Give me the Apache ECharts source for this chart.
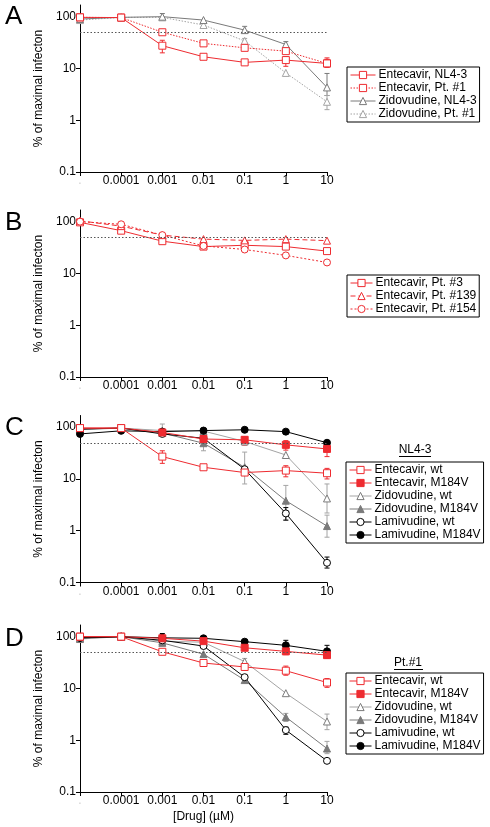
<!DOCTYPE html>
<html><head><meta charset="utf-8">
<script src="https://cdn.jsdelivr.net/npm/echarts@6/dist/echarts.min.js"></script>
<style>html,body{margin:0;padding:0;background:#fff}#c{width:490px;height:827px}</style>
</head><body><div id="c"></div>
<script>
const categories = ['.', '0.0001', '0.001', '0.01', '0.1', '1', '10'];
const yTicks = [0.1, 1, 10, 100];
const yMin = 0.1, yMax = 168;

// Panel A
const aEntNL43 = [97, 96, 27.5, 16.8, 13.1, 14.5, 12.5];
const aEntPt1 = [97, 96, 50, 30.5, 25, 21.6, 12.5];
const aZidNL43 = [90, 97, 100, 86, 55, 29, 4.3];
const aZidPt1 = [86, 97, 97, 69, 34, 8.2, 2.27];
const aEntNL43Err = [null, null, [20, 35], null, null, [11, 17], [10.5, 15]];
const aEntPt1Err = [null, null, null, null, null, null, [11, 16]];
const aZidNL43Err = [null, null, [85, 115], null, [48, 65], [24, 33], [3, 8]];
const aZidPt1Err = [null, null, null, null, [27, 38], null, [1.6, 3]];

// Panel B
const bPt3 = [97, 67, 42, 33, 35, 33, 27];
const bPt139 = [104, 82, 55, 46, 43.5, 46, 43];
const bPt154 = [100, 89, 55, 34, 29, 22.3, 16.3];

// Panel C (NL4-3)
const cEntWt = [96, 96, 27, 16.8, 13.3, 14.5, 12.9];
const cEntM = [96, 96, 79, 59, 57, 45.5, 38];
const cZidWt = [93, 96, 86, 84, 53, 29, 4.2];
const cZidM = [90, 96, 77, 49, 16.8, 3.8, 1.23];
const cLamWt = [92, 96, 74, 61, 15.4, 2.16, 0.24];
const cLamM = [74, 85, 82, 86, 89, 82, 50];
const cEntWtErr = [null, null, [20, 35], null, null, [11, 18], [10, 16]];
const cEntMErr = [null, null, null, null, [45, 65], [36, 55], [27, 50]];
const cZidWtErr = [null, null, [70, 115], null, null, null, [2.2, 8]];
const cZidMErr = [null, null, null, [35, 65], [8, 33], [1.6, 7.5], [0.75, 2]];
const cLamWtErr = [null, null, null, null, null, [1.6, 2.8], [0.19, 0.31]];

// Panel D (Pt.#1)
const dEntWt = [100, 100, 51, 31, 26, 22, 13];
const dEntM = [100, 100, 93, 82, 61, 52, 44];
const dZidWt = [90, 100, 82, 78, 33, 8.1, 2.3];
const dZidM = [93, 100, 76, 46, 14.5, 2.8, 0.69];
const dLamWt = [95, 100, 85, 66, 16.5, 1.57, 0.40];
const dLamM = [95, 100, 95, 93, 80, 68, 52];
const dEntWtErr = [null, null, null, null, null, [18, 27], [10.5, 15.5]];
const dEntMErr = [null, null, null, null, null, [45, 58], [38, 50]];
const dZidWtErr = [null, null, null, null, [28, 38], null, [1.6, 3.2]];
const dZidMErr = [null, null, null, null, [13, 16], [2.3, 3.3], [0.55, 0.95]];
const dLamWtErr = [null, null, null, null, null, [1.3, 1.8], null];
const dLamMErr = [null, null, [85, 115], null, null, [55, 85], [40, 68]];

const FONT = 'Liberation Sans, Arial, sans-serif';
const RED = '#ee2b30', GRAY = '#7a7a7a', LGRAY = '#a4a4a4', BLACK = '#000';

const grids = [
  {left: 80, top: 5, width: 247, height: 167},
  {left: 80, top: 210, width: 247, height: 167},
  {left: 80, top: 415.5, width: 247, height: 167},
  {left: 80, top: 625, width: 247, height: 167}
];

const xAxes = grids.map((g, i) => ({
  type: 'category', gridIndex: i, data: categories, boundaryGap: false,
  axisLine: {lineStyle: {color: '#000', width: 1}},
  axisTick: {length: 4, lineStyle: {color: '#000'}, alignWithLabel: true},
  axisLabel: {interval: 0, fontSize: 12, fontFamily: FONT, margin: 3,
    color: (v, idx) => idx === 0 ? '#d0d0d0' : '#000'},
  name: i === 3 ? '[Drug] (\u00b5M)' : '', nameLocation: 'middle', nameGap: 19,
  nameTextStyle: {fontSize: 12, fontFamily: FONT, color: '#000'}
}));

const yAxes = grids.map((g, i) => ({
  type: 'log', logBase: 10, gridIndex: i, min: yMin, max: yMax,
  axisLine: {show: true, lineStyle: {color: '#000', width: 1}},
  axisTick: {show: true, length: 4, lineStyle: {color: '#000'}, customValues: yTicks},
  axisLabel: {fontSize: 12, fontFamily: FONT, color: '#000', margin: 4, customValues: yTicks,
    formatter: v => String(v)},
  splitLine: {show: false},
  name: '% of maximal infecton', nameLocation: 'middle', nameGap: 31,
  nameTextStyle: {fontSize: 12, fontFamily: FONT, color: '#000'}
}));

function lineS(name, gi, data, o) {
  const s = {
    type: 'line', name, xAxisIndex: gi, yAxisIndex: gi, data,
    symbol: o.symbol, symbolSize: o.size || 7,
    lineStyle: {color: o.line, width: 1, type: o.dash || 'solid'},
    itemStyle: {color: o.fill, borderColor: o.stroke, borderWidth: 1},
    z: o.z || 3, animation: false, silent: true
  };
  if (o.ref) {
    s.markLine = {silent: true, symbol: 'none', label: {show: false},
      lineStyle: {color: '#555', type: [1.5, 2], width: 1},
      data: [{yAxis: 50}], animation: false};
  }
  return s;
}

function errS(gi, errs, color) {
  const data = [];
  errs.forEach((e, i) => { if (e) data.push([i, e[0], e[1]]); });
  return {
    type: 'custom', name: 'err', xAxisIndex: gi, yAxisIndex: gi, data, z: 2, silent: true, animation: false,
    encode: {x: 0, y: [1, 2]},
    renderItem(params, api) {
      const x = api.value(0);
      const lo = api.coord([x, api.value(1)]);
      const hi = api.coord([x, api.value(2)]);
      const w = 2.5, st = {stroke: color, lineWidth: 1};
      return {type: 'group', children: [
        {type: 'line', shape: {x1: lo[0], y1: lo[1], x2: hi[0], y2: hi[1]}, style: st},
        {type: 'line', shape: {x1: lo[0] - w, y1: lo[1], x2: lo[0] + w, y2: lo[1]}, style: st},
        {type: 'line', shape: {x1: hi[0] - w, y1: hi[1], x2: hi[0] + w, y2: hi[1]}, style: st}
      ]};
    }
  };
}

const WHITE = '#fff';
const series = [
  // A
  errS(0, aEntNL43Err, RED), errS(0, aEntPt1Err, RED), errS(0, aZidNL43Err, GRAY), errS(0, aZidPt1Err, LGRAY),
  lineS('Zidovudine, Pt. #1', 0, aZidPt1, {symbol: 'triangle', line: LGRAY, fill: WHITE, stroke: LGRAY, dash: [1.5, 1.5], ref: true}),
  lineS('Zidovudine, NL4-3', 0, aZidNL43, {symbol: 'triangle', line: GRAY, fill: WHITE, stroke: GRAY}),
  lineS('Entecavir, Pt. #1', 0, aEntPt1, {symbol: 'rect', line: RED, fill: WHITE, stroke: RED, dash: [1.5, 1.5]}),
  lineS('Entecavir, NL4-3', 0, aEntNL43, {symbol: 'rect', line: RED, fill: WHITE, stroke: RED}),
  // B
  lineS('Entecavir, Pt. #3', 1, bPt3, {symbol: 'rect', line: RED, fill: WHITE, stroke: RED, ref: true}),
  lineS('Entecavir, Pt. #139', 1, bPt139, {symbol: 'triangle', line: RED, fill: WHITE, stroke: RED, dash: [5, 3]}),
  lineS('Entecavir, Pt. #154', 1, bPt154, {symbol: 'circle', line: RED, fill: WHITE, stroke: RED, dash: [2, 2]}),
  // C
  errS(2, cEntWtErr, RED), errS(2, cEntMErr, RED), errS(2, cZidWtErr, LGRAY), errS(2, cZidMErr, LGRAY), errS(2, cLamWtErr, BLACK),
  lineS('Zidovudine, wt', 2, cZidWt, {symbol: 'triangle', line: LGRAY, fill: WHITE, stroke: GRAY, ref: true}),
  lineS('Zidovudine, M184V', 2, cZidM, {symbol: 'triangle', line: GRAY, fill: GRAY, stroke: GRAY}),
  lineS('Lamivudine, wt', 2, cLamWt, {symbol: 'circle', line: BLACK, fill: WHITE, stroke: BLACK}),
  lineS('Lamivudine, M184V', 2, cLamM, {symbol: 'circle', line: BLACK, fill: BLACK, stroke: BLACK}),
  lineS('Entecavir, M184V', 2, cEntM, {symbol: 'rect', line: RED, fill: RED, stroke: RED}),
  lineS('Entecavir, wt', 2, cEntWt, {symbol: 'rect', line: RED, fill: WHITE, stroke: RED}),
  // D
  errS(3, dEntWtErr, RED), errS(3, dEntMErr, RED), errS(3, dZidWtErr, LGRAY), errS(3, dZidMErr, LGRAY), errS(3, dLamWtErr, BLACK), errS(3, dLamMErr, BLACK),
  lineS('Zidovudine, wt', 3, dZidWt, {symbol: 'triangle', line: LGRAY, fill: WHITE, stroke: GRAY, ref: true}),
  lineS('Zidovudine, M184V', 3, dZidM, {symbol: 'triangle', line: GRAY, fill: GRAY, stroke: GRAY}),
  lineS('Lamivudine, wt', 3, dLamWt, {symbol: 'circle', line: BLACK, fill: WHITE, stroke: BLACK}),
  lineS('Lamivudine, M184V', 3, dLamM, {symbol: 'circle', line: BLACK, fill: BLACK, stroke: BLACK}),
  lineS('Entecavir, M184V', 3, dEntM, {symbol: 'rect', line: RED, fill: RED, stroke: RED}),
  lineS('Entecavir, wt', 3, dEntWt, {symbol: 'rect', line: RED, fill: WHITE, stroke: RED})
];

const legBase = {
  orient: 'vertical', itemWidth: 22, itemHeight: 9, itemGap: 1,
  borderColor: '#000', borderWidth: 1, padding: [2, 3, 2, 3],
  lineStyle: {width: 1},
  itemStyle: {borderWidth: 1},
  textStyle: {fontSize: 12, fontFamily: FONT, color: '#000', padding: [0, 0, 0, -2]},
  selectedMode: false
};
const cdNames = ['Entecavir, wt', 'Entecavir, M184V', 'Zidovudine, wt', 'Zidovudine, M184V', 'Lamivudine, wt', 'Lamivudine, M184V'];
const legends = [
  Object.assign({}, legBase, {left: 347, top: 67, itemWidth: 25,
    data: ['Entecavir, NL4-3', 'Entecavir, Pt. #1', 'Zidovudine, NL4-3', 'Zidovudine, Pt. #1']}),
  Object.assign({}, legBase, {left: 347, top: 275,
    data: ['Entecavir, Pt. #3', 'Entecavir, Pt. #139', 'Entecavir, Pt. #154']}),
  Object.assign({}, legBase, {left: 346, top: 462, data: cdNames}),
  Object.assign({}, legBase, {left: 346, top: 673, data: cdNames})
];

const letterStyle = t => ({fill: '#000', text: t, font: '26px ' + FONT, verticalAlign: 'middle'});
const graphic = [
  {type: 'text', x: 5, y: 17, style: letterStyle('A')},
  {type: 'text', x: 5, y: 222.5, style: letterStyle('B')},
  {type: 'text', x: 5, y: 428, style: letterStyle('C')},
  {type: 'text', x: 5, y: 638.5, style: letterStyle('D')},
  {type: 'text', x: 415, y: 450, style: {text: 'NL4-3', font: '12px ' + FONT, fill: '#000', align: 'center', verticalAlign: 'middle'}},
  {type: 'line', shape: {x1: 399, y1: 456.5, x2: 431, y2: 456.5}, style: {stroke: '#000', lineWidth: 1}},
  {type: 'text', x: 408, y: 663, style: {text: 'Pt.#1', font: '12px ' + FONT, fill: '#000', align: 'center', verticalAlign: 'middle'}},
  {type: 'line', shape: {x1: 394, y1: 669.5, x2: 423, y2: 669.5}, style: {stroke: '#000', lineWidth: 1}}
];

const chart = echarts.init(document.getElementById('c'), null, {renderer: 'canvas'});
chart.setOption({
  animation: false,
  backgroundColor: '#fff',
  grid: grids, xAxis: xAxes, yAxis: yAxes, legend: legends, series, graphic
});
</script></body></html>
